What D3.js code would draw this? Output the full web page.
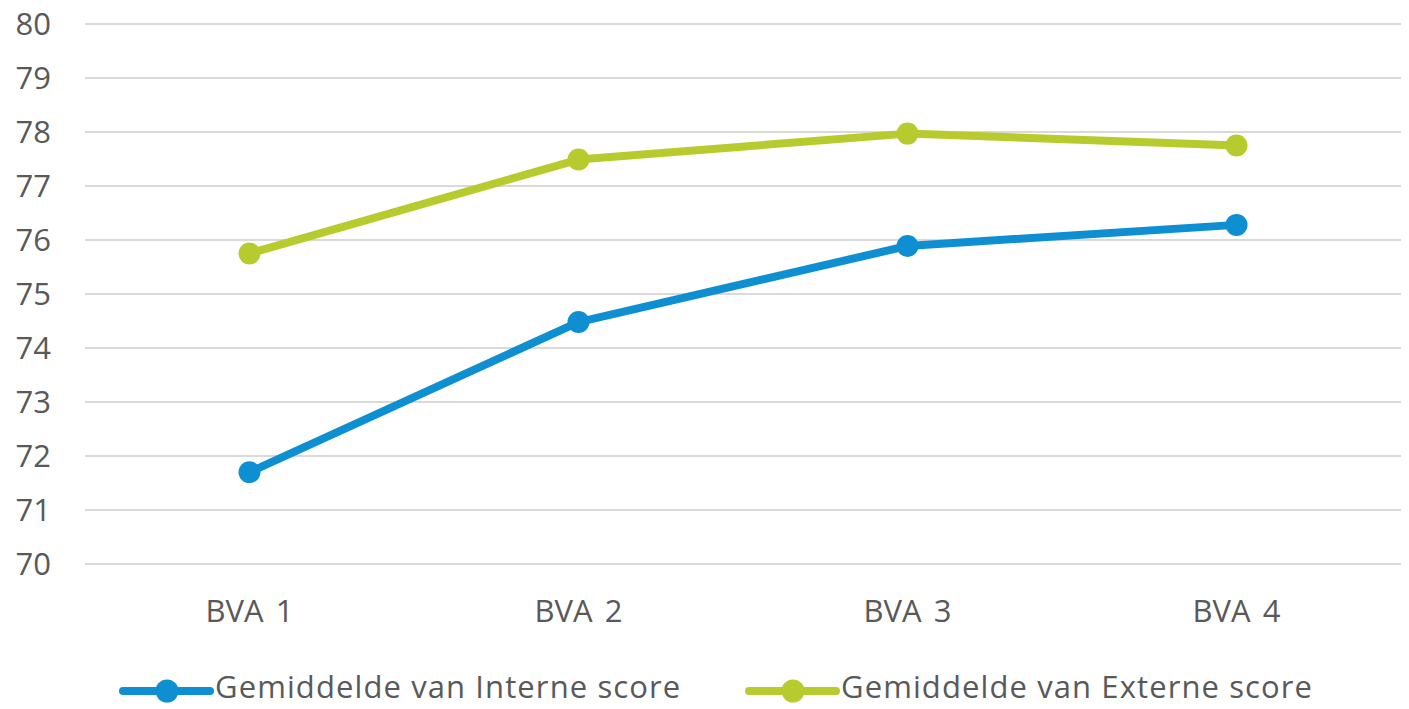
<!DOCTYPE html>
<html lang="nl">
<head>
<meta charset="utf-8">
<title>BVA scores</title>
<script src="https://d3js.org/d3.v7.min.js"></script>
<style>
  body { margin: 0; background: #fff; }
  text { font-family: "Open Sans", sans-serif; fill: #595959; }
</style>
</head>
<body>
<div id="chart"></div>
<script>
const categories = ["BVA 1", "BVA 2", "BVA 3", "BVA 4"];
const interne = [71.70, 74.48, 75.89, 76.28];
const externe = [75.75, 77.49, 77.97, 77.75];
const yTicks = [70, 71, 72, 73, 74, 75, 76, 77, 78, 79, 80];

const series = [
  { name: "Gemiddelde van Interne score", values: interne, color: "#0e8fd2" },
  { name: "Gemiddelde van Externe score", values: externe, color: "#b8cb2e" }
];

const W = 1409, H = 709;
const svg = d3.select("#chart").append("svg")
  .attr("width", W).attr("height", H);

const x = d3.scaleBand().domain(categories).range([85, 1401]);
const y = d3.scaleLinear().domain([70, 80]).range([564, 24]);

// gridlines
svg.append("g")
  .selectAll("line")
  .data(yTicks)
  .enter().append("line")
  .attr("x1", 85).attr("x2", 1401)
  .attr("y1", d => y(d)).attr("y2", d => y(d))
  .attr("stroke", "#d9d9d9").attr("stroke-width", 2);

// y labels
svg.append("g")
  .selectAll("text")
  .data(yTicks)
  .enter().append("text")
  .attr("x", 51).attr("y", d => y(d))
  .attr("dy", "0.35em")
  .attr("text-anchor", "end")
  .style("font-size", "31px")
  .text(d => d);

// x labels
svg.append("g")
  .selectAll("text")
  .data(categories)
  .enter().append("text")
  .attr("x", d => x(d) + x.bandwidth() / 2)
  .attr("y", 622)
  .attr("text-anchor", "middle")
  .style("font-size", "31px")
  .style("word-spacing", "4px")
  .text(d => d);

const line = d3.line()
  .x((d, i) => x(categories[i]) + x.bandwidth() / 2)
  .y(d => y(d));

series.forEach(s => {
  svg.append("path")
    .datum(s.values)
    .attr("d", line)
    .attr("fill", "none")
    .attr("stroke", s.color)
    .attr("stroke-width", 8)
    .attr("stroke-linejoin", "round");
  svg.append("g")
    .selectAll("circle")
    .data(s.values)
    .enter().append("circle")
    .attr("cx", (d, i) => x(categories[i]) + x.bandwidth() / 2)
    .attr("cy", d => y(d))
    .attr("r", 11)
    .attr("fill", s.color);
});

// legend
const legendX = [123, 749];
const legend = svg.append("g")
  .selectAll("g")
  .data(series)
  .enter().append("g")
  .attr("transform", (d, i) => "translate(" + legendX[i] + ",691)");
legend.append("line")
  .attr("x1", 0).attr("x2", 87)
  .attr("stroke", d => d.color)
  .attr("stroke-width", 8)
  .attr("stroke-linecap", "round");
legend.append("circle")
  .attr("cx", 44).attr("r", 11.5)
  .attr("fill", d => d.color);
legend.append("text")
  .attr("x", 92).attr("y", 7)
  .style("font-size", "31px")
  .style("letter-spacing", "1.1px")
  .text(d => d.name);
</script>
</body>
</html>
